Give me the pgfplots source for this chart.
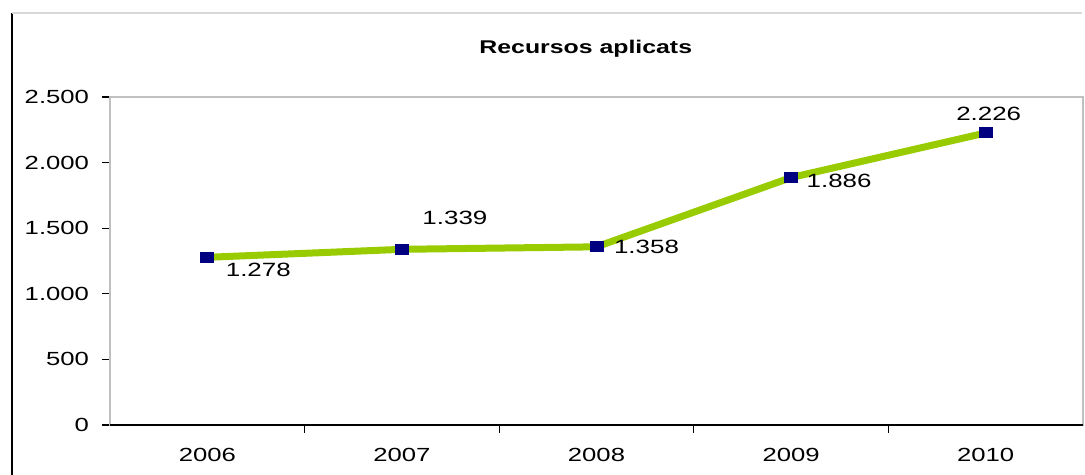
\documentclass[border=0pt]{standalone}
\usepackage{fontspec}
\setmainfont{Liberation Sans}[FakeStretch=1.35]
\usepackage{pgfplots}
\usepackage{pgfplotstable}
\pgfplotsset{compat=1.18}
\pgfkeys{/pgf/number format/.cd, 1000 sep={.}, assume math mode=true}
\definecolor{linegreen}{HTML}{99CC00}
\definecolor{marknavy}{HTML}{000080}
\definecolor{framegray}{HTML}{C0C0C0}

% x, value, label offsets (pt)
\pgfplotstableread{
x y dx dy
0 1278 25.5 -6.5
1 1339 26.5 15.5
2 1358 25 0
3 1886 24 -1.5
4 2226 1.5 9.5
}\recursos

\begin{document}
\begin{tikzpicture}
\path[use as bounding box] (-55pt,-25pt) rectangle (487.5pt,212.5pt);
\begin{axis}[
    at={(0,0)}, anchor=south west,
    scale only axis,
    width=486.5pt, height=164pt,
    xmin=-0.5, xmax=4.5,
    ymin=0, ymax=2500,
    ytick={0,500,...,2500},
    xtick={0.5,1.5,2.5,3.5},
    xticklabels={},
    extra x ticks={0,...,4},
    extra x tick labels={2006,2007,2008,2009,2010},
    extra x tick style={major tick length=0pt},
    tick style={black, line width=0.6pt},
    major tick length=4pt,
    tick align=outside,
    xtick pos=bottom, ytick pos=left,
    axis line style={framegray, line width=1pt},
    tick label style={font=\fontsize{9.5}{11}\selectfont},
    xticklabel style={yshift=-8pt},
    yticklabel style={xshift=-3pt},
    title={\textbf{Recursos aplicats}},
    title style={font=\fontsize{9.2}{11}\selectfont, at={(0.489,1)}, anchor=center, yshift=18pt},
    clip=false,
    nodes near coords,
    point meta=y,
    visualization depends on={\thisrow{dx}\as\ldx},
    visualization depends on={\thisrow{dy}\as\ldy},
    every node near coord/.append style={font=\fontsize{9.6}{11}\selectfont, text=black,
        anchor=center, xshift=\ldx pt, yshift=\ldy pt},
]
\addplot[linegreen, line width=3.5pt, mark=square*,
    mark options={marknavy, fill=marknavy, line width=0pt, xscale=1.3, mark size=2.5pt}]
    table[x=x, y=y] {\recursos};
\draw[black, line width=0.8pt] (rel axis cs:0,0) -- (rel axis cs:1,0);
\draw[black, line width=0.6pt] ([xshift=-49pt,yshift=-30pt]rel axis cs:0,0) -- ([xshift=-49pt,yshift=206pt]rel axis cs:0,0);
\draw[framegray!60, line width=0.6pt] ([xshift=-49pt,yshift=206pt]rel axis cs:0,0) -- ([xshift=486pt,yshift=206pt]rel axis cs:0,0);
\end{axis}
\end{tikzpicture}
\end{document}
